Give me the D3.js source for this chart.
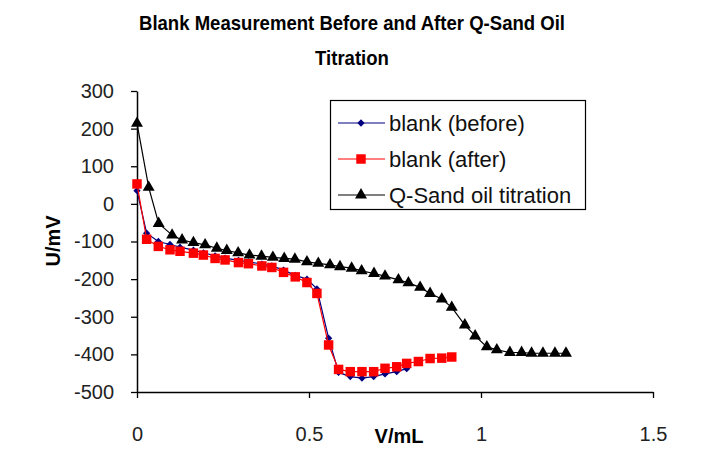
<!DOCTYPE html>
<html>
<head>
<meta charset="utf-8">
<script src="https://cdn.jsdelivr.net/npm/d3@7"></script>
<style>
  html, body { margin: 0; padding: 0; background: #fff; }
  svg { display: block; font-family: "Liberation Sans", Arial, sans-serif; }
</style>
</head>
<body>
<svg id="chart" width="717" height="449"></svg>
<script>
// Titrant volume (mL) and potential (mV) for each run
const beforeV = [0, 0.028, 0.062, 0.096, 0.125, 0.164, 0.193, 0.227, 0.256, 0.295, 0.324, 0.363, 0.392, 0.426, 0.46, 0.494, 0.523, 0.557, 0.586, 0.62, 0.654, 0.688, 0.721, 0.755, 0.784];
const beforeU = [35, -78, -100, -108, -115, -123, -130, -138, -144, -150, -154, -160, -165, -176, -190, -200, -226, -357, -448, -459, -463, -459, -452, -446, -438];

const afterV = [0, 0.028, 0.062, 0.096, 0.125, 0.164, 0.193, 0.227, 0.256, 0.295, 0.324, 0.363, 0.392, 0.426, 0.46, 0.494, 0.523, 0.557, 0.586, 0.62, 0.654, 0.688, 0.721, 0.755, 0.784, 0.818, 0.852, 0.886, 0.915];
const afterU = [53, -94, -113, -122, -126, -131, -136, -145, -149, -156, -159, -165, -169, -182, -194, -209, -238, -375, -440, -446, -446, -446, -437, -433, -424, -419, -411, -410, -407];

const oilV = [0, 0.034, 0.063, 0.102, 0.131, 0.164, 0.198, 0.232, 0.261, 0.294, 0.327, 0.362, 0.395, 0.428, 0.459, 0.494, 0.527, 0.561, 0.59, 0.624, 0.653, 0.689, 0.721, 0.76, 0.789, 0.823, 0.852, 0.886, 0.915, 0.953, 0.983, 1.017, 1.046, 1.084, 1.118, 1.147, 1.18, 1.215, 1.247];
const oilU = [214, 44, -52, -83, -96, -103, -109, -118, -124, -130, -136, -139, -142, -145, -147, -154, -158, -162, -167, -171, -178, -185, -192, -202, -210, -222, -238, -253, -275, -322, -351, -380, -388, -395, -395, -397, -397, -397, -397];

const xTicks = [0, 0.5, 1, 1.5];
const yTicks = [300, 200, 100, 0, -100, -200, -300, -400, -500];

const seriesNames = ["blank (before)", "blank (after)", "Q-Sand oil titration"];
const seriesColors = ["#000080", "#ff0000", "#000000"];
const seriesMarkers = ["diamond", "square", "triangle"];

const titleLines = ["Blank Measurement Before and After Q-Sand Oil", "Titration"];

const svg = d3.select("#chart");
const plotLeft = 137, plotRight = 653, plotTop = 91, plotBottom = 392;

const x = d3.scaleLinear().domain([0, 1.5]).range([plotLeft, plotRight]);
const y = d3.scaleLinear().domain([-500, 300]).range([plotBottom, plotTop]);

// Plain hyphen for negative tick values
const numFmt = d => String(d);

// Title: slightly condensed bold face, first line fitted to its width
const title = svg.append("g").attr("font-weight", "bold").attr("fill", "#000");
const titleNodes = titleLines.map((t, i) =>
  title.append("text")
    .attr("x", 352).attr("y", 30 + i * 35)
    .attr("text-anchor", "middle")
    .attr("font-size", 21)
    .text(t));
const squeeze = 426 / titleNodes[0].node().getComputedTextLength();
titleNodes.forEach(n => {
  const w = n.node().getComputedTextLength() * squeeze;
  n.attr("textLength", w).attr("lengthAdjust", "spacingAndGlyphs");
});

// Axes
const xAxis = svg.append("g")
  .attr("transform", `translate(0,${plotBottom})`)
  .call(d3.axisBottom(x).tickValues(xTicks).tickSize(6).tickSizeOuter(0).tickPadding(29)
        .tickFormat(numFmt));
const yAxis = svg.append("g")
  .attr("transform", `translate(${plotLeft},0)`)
  .call(d3.axisLeft(y).tickValues(yTicks).tickSize(6).tickSizeOuter(0).tickPadding(17)
        .tickFormat(numFmt));

[xAxis, yAxis].forEach(a => {
  a.select(".domain").attr("stroke", "#000").attr("stroke-width", 1.5);
  a.selectAll(".tick line").attr("stroke", "#000").attr("stroke-width", 1.3);
  a.selectAll(".tick text")
    .attr("font-family", "'Liberation Sans', Arial, sans-serif")
    .attr("font-size", 20).attr("fill", "#222");
});
xAxis.selectAll(".tick text").attr("dy", "0.71em");

// Axis titles
svg.append("text")
  .attr("x", 399).attr("y", 443)
  .attr("text-anchor", "middle")
  .attr("font-size", 20).attr("font-weight", "bold")
  .text("V/mL");
svg.append("text")
  .attr("transform", "translate(60,241) rotate(-90)")
  .attr("text-anchor", "middle")
  .attr("font-size", 20).attr("font-weight", "bold")
  .text("U/mV");

// Marker shapes
function markerPath(kind) {
  if (kind === "diamond") return d3.symbol().type(d3.symbolDiamond2).size(34)();
  if (kind === "square") return d3.symbol().type(d3.symbolSquare).size(90)();
  return d3.symbol().type(d3.symbolTriangle).size(62)();
}

const series = [
  { v: beforeV, u: beforeU },
  { v: afterV, u: afterU },
  { v: oilV, u: oilU }
];

const line = d3.line().x(d => x(d[0])).y(d => y(d[1]));

// Series are stacked in legend order: before, then after on top of it, then the oil run
series.forEach((s, i) => {
  const pts = s.v.map((v, k) => [v, s.u[k]]);
  const g = svg.append("g");
  g.append("path")
    .attr("d", line(pts))
    .attr("fill", "none")
    .attr("stroke", seriesColors[i])
    .attr("stroke-width", 1.2);
  g.selectAll("path.m").data(pts).enter().append("path")
    .attr("class", "m")
    .attr("d", markerPath(seriesMarkers[i]))
    .attr("transform", d => `translate(${x(d[0])},${y(d[1])})`)
    .attr("fill", seriesColors[i]);
});

// Legend
const lg = svg.append("g");
lg.append("rect")
  .attr("x", 330.5).attr("y", 100.5).attr("width", 255).attr("height", 109)
  .attr("fill", "#fff").attr("stroke", "#000").attr("stroke-width", 1.2);
seriesNames.forEach((name, i) => {
  const cy = 123 + i * 36;
  lg.append("line")
    .attr("x1", 338).attr("x2", 385).attr("y1", cy).attr("y2", cy)
    .attr("stroke", seriesColors[i]).attr("stroke-width", 1.2);
  lg.append("path")
    .attr("d", markerPath(seriesMarkers[i]))
    .attr("transform", `translate(361,${cy})`)
    .attr("fill", seriesColors[i]);
  lg.append("text")
    .attr("x", 389).attr("y", cy).attr("dy", "0.35em")
    .attr("font-size", 22).attr("fill", "#111")
    .text(name);
});
</script>
</body>
</html>
